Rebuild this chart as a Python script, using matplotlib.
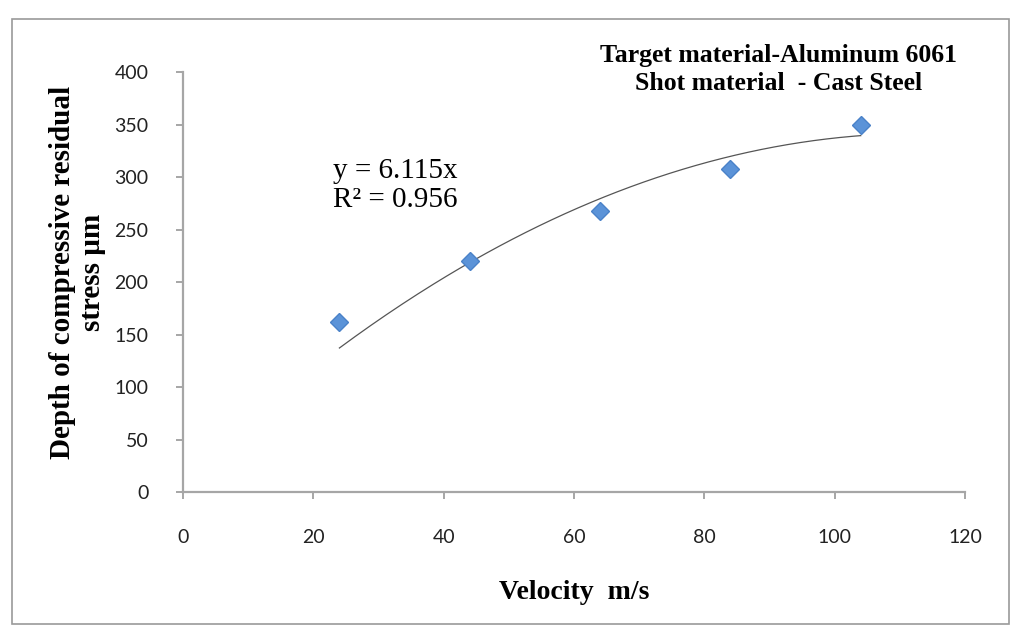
import numpy as np
import matplotlib.pyplot as plt
from matplotlib.patches import Rectangle

velocity = [24, 44, 64, 84, 104]
depth = [162, 220, 268, 308, 350]

# trendline as drawn in the picture (read at the data x positions)
trend_x = [24, 44, 64, 84, 104]
trend_y = [137, 219, 280, 319, 340]

x_ticks = [0, 20, 40, 60, 80, 100, 120]
y_ticks = [0, 50, 100, 150, 200, 250, 300, 350, 400]

serif = ['Liberation Serif', 'DejaVu Serif']
tick_font = 'Lato'
axis_col = '#a6a6a6'

fig = plt.figure(figsize=(10.19, 6.34), dpi=100)
ax = fig.add_axes([0.1796, 0.224, 0.7674, 0.662])

coef = np.polyfit(trend_x, trend_y, 2)
xs = np.linspace(trend_x[0], trend_x[-1], 200)
ax.plot(xs, np.polyval(coef, xs), color='#555555', lw=0.9, zorder=2)
ax.plot(velocity, depth, linestyle='none', marker='D', markersize=9,
        color='#5b93d8', markeredgecolor='#4a82c8', zorder=3)

ax.set_xlim(0, 120)
ax.set_ylim(0, 400)
ax.set_xticks(x_ticks)
ax.set_yticks(y_ticks)
for s in ['top', 'right']:
    ax.spines[s].set_visible(False)
for s in ['left', 'bottom']:
    ax.spines[s].set_color(axis_col)
    ax.spines[s].set_linewidth(1.6)
ax.tick_params(axis='both', colors=axis_col, length=5, width=1.4, direction='out')
ax.tick_params(axis='x', pad=22, labelcolor='#222222', labelsize=14)
ax.tick_params(axis='y', pad=20, labelcolor='#222222', labelsize=14)
for lab in ax.get_xticklabels() + ax.get_yticklabels():
    lab.set_fontfamily(tick_font)

ax.set_xlabel('Velocity  m/s', family=serif, fontweight='bold', fontsize=20, labelpad=24)
fig.text(0.076, 0.57, 'Depth of compressive residual\nstress µm', family=serif,
         fontweight='bold', fontsize=21, rotation=90, ha='center', va='center',
         linespacing=1.15)

fig.text(0.764, 0.89, 'Target material-Aluminum 6061\nShot material  - Cast Steel',
         family=serif, fontweight='bold', fontsize=18.5, ha='center', va='center',
         linespacing=1.3)

ax.text(0.192, 0.73, 'y = 6.115x\nR² = 0.956', transform=ax.transAxes,
        family=serif, fontsize=21, ha='left', va='center', linespacing=1.15)

fig.patches.append(Rectangle((0.012, 0.015), 0.978, 0.955, transform=fig.transFigure,
                             fill=False, edgecolor='#9a9a9a', lw=1.2))

fig.savefig('out.png', dpi=100)
